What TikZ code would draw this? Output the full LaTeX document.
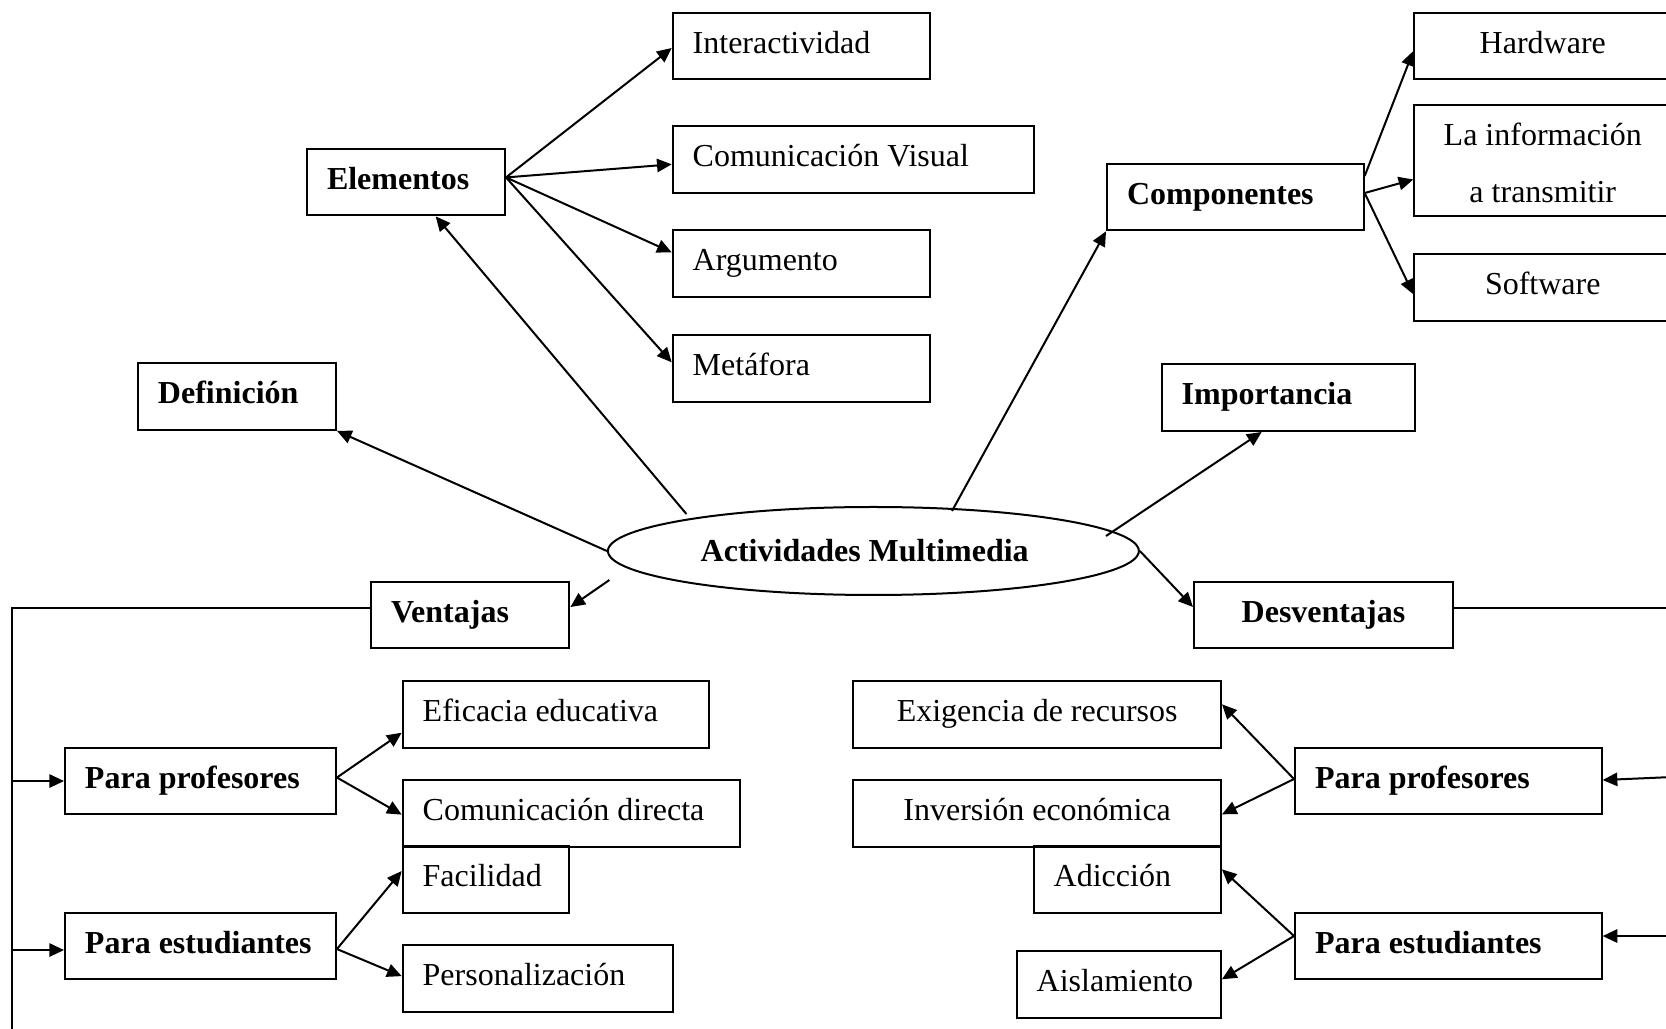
\documentclass[tikz,border=0pt]{standalone}
\usepackage{fontspec}
\setmainfont{Liberation Serif}
\usetikzlibrary{shapes.geometric,arrows.meta,calc}
\begin{document}
\begin{tikzpicture}[x=0.375pt,y=-0.375pt,
  every node/.style={font=\fontsize{12}{14}\selectfont},
  base/.style={draw, line width=0.75pt, inner xsep=7.5pt, inner ysep=0pt,
    text height=15.2pt, text depth=9.8pt, anchor=north west},
  lbox/.style={base, text width=#1, align=flush left},
  cbox/.style={base, minimum width=#1},
  hd/.style={font=\fontsize{12}{14}\selectfont\bfseries},
  link/.style={line width=0.75pt},
  arr/.style={link, -{Triangle[length=5.5pt,width=5pt]}},
]
\useasboundingbox (0,0) rectangle (1666,1029);
\clip (0,0) rectangle (1666,1029);

% central topic (label set a little left of centre)
\node[ellipse, draw, link, minimum width=199.1pt, minimum height=33pt,
  inner sep=0pt, hd] (act) at (873.4,551) {Actividades Multimedia\kern6.5pt};

% upper left branch
\node[lbox=59.25pt, hd] (elem) at (306,147.7) {Elementos};
\node[lbox=81.375pt] (inter) at (671.7,11.7) {Interactividad};
\node[lbox=120.375pt] (cvis) at (671.7,125) {Comunicación~Visual};
\node[lbox=81.375pt] (arg) at (671.7,229) {Argumento};
\node[lbox=81.375pt] (meta) at (671.7,334) {Metáfora};
\node[lbox=59.25pt, hd] (defn) at (137,362.3) {Definición};

% upper right branch
\node[lbox=81.25pt, hd] (comp) at (1106,162.7) {Componentes};
\node[cbox=96.375pt] (hw) at (1413.3,11.7) {Hardware};
\node[base, text width=81.375pt, align=flush center, text height=15.2pt,
  text depth=26.2pt, font=\fontsize{12}{21.4}\selectfont] (info)
  at (1413.3,104.3) {La información\\a transmitir};
\node[cbox=96.375pt] (soft) at (1413.3,252.9) {Software};
\node[lbox=80pt, hd] (imp) at (1160.7,363.3) {Importancia};

% advantages
\node[lbox=59.4pt, hd] (vent) at (370,580.7) {Ventajas};
\node[lbox=86.6pt, hd] (ppl) at (64,746.7) {Para~profesores};
\node[lbox=86.6pt, hd] (pel) at (64,911.7) {Para~estudiantes};
\node[lbox=99.75pt] (efic) at (401.7,680) {Eficacia~educativa};
\node[lbox=111.6pt] (cdir) at (401.7,779) {Comunicación~directa};
\node[lbox=47.25pt] (faci) at (401.7,845) {Facilidad};
\node[lbox=86.5pt] (pers) at (401.7,944.3) {Personalización};

% disadvantages
\node[cbox=97.1pt, hd] (desv) at (1193,580.7) {Desventajas};
\node[lbox=100pt, hd] (ppr) at (1294,746.7) {Para~profesores};
\node[lbox=100pt, hd] (per) at (1294,911.7) {Para~estudiantes};
\node[cbox=137.9pt] (exig) at (852.3,680) {Exigencia de recursos};
\node[cbox=137.9pt] (inve) at (852.3,779) {Inversión económica};
\node[lbox=55.2pt] (adic) at (1032.7,845) {Adicción};
\node[lbox=61.6pt] (aisl) at (1015.7,950) {Aislamiento};

% bus line ends
\coordinate (lbot) at (12,1040);
\coordinate (rbot) at (1672,1040);

% spokes from the central topic
\draw[arr] (act.west) -- (defn.south east);
\draw[arr] ($(act.center)+(-187,-37)$) -- ($(elem.south west)+(129.7,0)$);
\draw[arr] ($(act.center)+(78.6,-40)$) -- (comp.south west);
\draw[arr] ($(act.center)+(232.6,-15)$) -- ($(imp.south west)+(101,0)$);
\draw[arr] (act.east) -- ($(desv.west)+(0,-8)$);
\draw[arr] ($(act.center)+(-264,29)$) -- ($(vent.east)+(0,-8)$);

% elements
\coordinate (eo) at ($(elem.east)+(0,-4.6)$);
\draw[arr] (eo) -- ($(inter.west)+(0,2)$);
\draw[arr] (eo) -- ($(cvis.west)+(0,5)$);
\draw[arr] (eo) -- ($(arg.west)+(0,-11)$);
\draw[arr] (eo) -- ($(meta.west)+(0,-6)$);

% components
\draw[arr] ($(comp.east)+(0,-21)$) -- ($(hw.west)+(0,5)$);
\coordinate (co) at ($(comp.east)+(0,-4)$);
\draw[arr] (co) -- ($(info.west)+(0,19)$);
\draw[arr] (co) -- ($(soft.west)+(0,7)$);

% advantages bus
\draw[link] ($(vent.west)+(0,-7.5)$) -| (lbot);
\draw[arr] (lbot |- ppl.west) -- (ppl.west);
\draw[arr] ($(lbot |- pel.west)+(0,4)$) -- ($(pel.west)+(0,4)$);
\draw[arr] ($(ppl.east)+(0,-3.5)$) -- ($(efic.west)+(0,18.4)$);
\draw[arr] ($(ppl.east)+(0,-3.5)$) -- ($(cdir.west)+(0,1.3)$);
\draw[arr] ($(pel.east)+(0,3)$) -- ($(faci.west)+(0,-8.3)$);
\draw[arr] ($(pel.east)+(0,3)$) -- ($(pers.west)+(0,-2.5)$);

% disadvantages bus
\draw[link] ($(desv.east)+(0,-7.5)$) -| (rbot);
\draw[arr] ($(rbot |- ppr.east)+(0,-4)$) -- ($(ppr.east)+(0,-1)$);
\draw[arr] ($(rbot |- per.east)+(0,-10)$) -- ($(per.east)+(0,-10)$);
\draw[arr] ($(ppr.west)+(0,-2)$) -- ($(exig.east)+(0,-10)$);
\draw[arr] ($(ppr.west)+(0,-2)$) -- ($(inve.east)+(0,1)$);
\draw[arr] ($(per.west)+(0,-10)$) -- ($(adic.east)+(0,-10)$);
\draw[arr] ($(per.west)+(0,-10)$) -- ($(aisl.east)+(0,-5)$);
\end{tikzpicture}
\end{document}
